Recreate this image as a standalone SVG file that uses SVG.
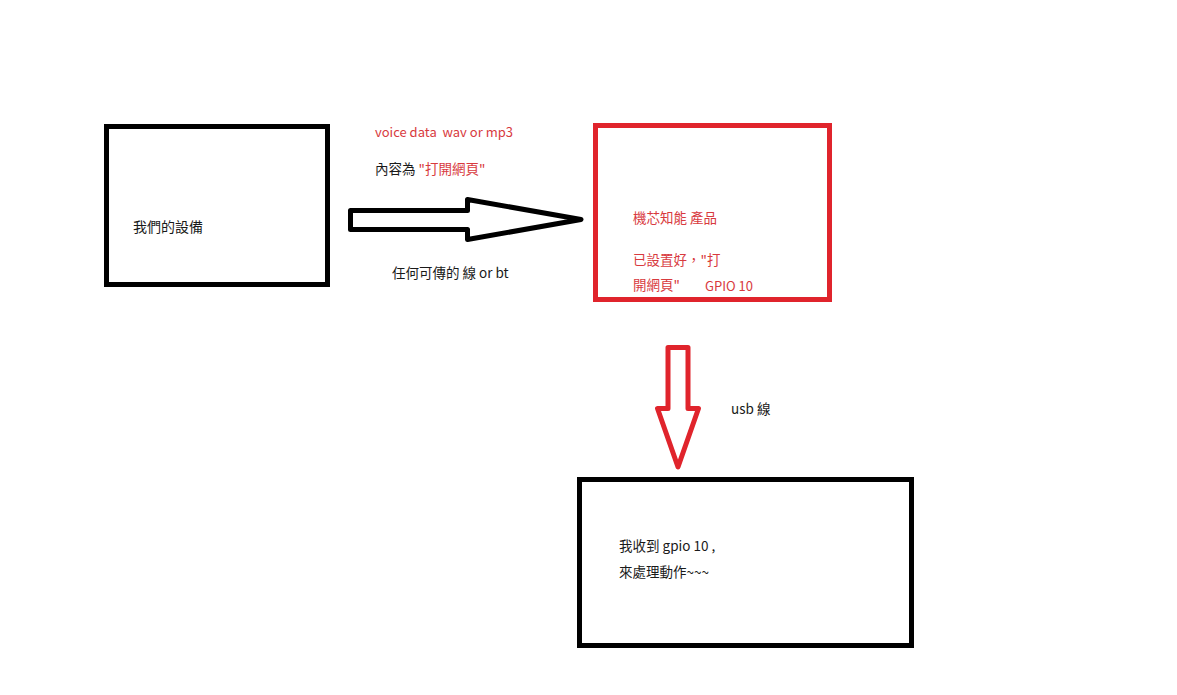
<svg xmlns="http://www.w3.org/2000/svg" width="1177" height="695" viewBox="0 0 1177 695">
<style>
.box{fill:#ffffff;stroke:#000000;stroke-width:5}
.rbox{fill:#ffffff;stroke:#e0242c;stroke-width:5}
.arr{fill:#ffffff;stroke:#000000;stroke-width:5;stroke-linejoin:round}
.rarr{fill:#ffffff;stroke:#e0242c;stroke-width:5;stroke-linejoin:round}
text{font-family:"Noto Sans CJK TC","Noto Sans",sans-serif;font-size:13.5px;fill:#1a1a1a}
.red{fill:#d83a3e}
</style>
<rect width="1177" height="695" fill="#ffffff"/>
<g id="node-our-device">
<rect class="box" x="106.5" y="126.5" width="221" height="158"/>
<text x="133" y="232" style="font-size:14px">我們的設備</text>
</g>
<g id="node-product">
<rect class="rbox" x="595.5" y="125.5" width="234" height="174"/>
<text class="red" x="633" y="223">機芯知能 產品</text>
<text class="red" x="633" y="265">已設置好，"打</text>
<text class="red" x="633" y="290">開網頁"</text>
<text class="red" x="705" y="291" style="font-size:13px">GPIO 10</text>
</g>
<g id="node-receiver">
<rect class="box" x="579.5" y="479.5" width="332" height="166"/>
<text x="619" y="551">我收到 gpio 10 ,</text>
<text x="619" y="577">來處理動作~~~</text>
</g>
<g id="connectors">
<polygon class="arr" points="350.5,210.5 467.5,210.5 467.5,199.5 581,219.5 467.5,239.5 467.5,229.5 350.5,229.5"/>
<polygon class="rarr" points="668,347.5 688,347.5 688,408.5 698.5,408.5 678,467 657.5,408.5 668,408.5"/>
<text class="red" x="375" y="137" style="font-size:13px">voice data&#160; wav or mp3</text>
<text x="375" y="174">內容為 <tspan class="red">"打開網頁"</tspan></text>
<text x="392" y="278">任何可傳的 線 or bt</text>
<text x="731" y="414">usb 線</text>
</g>
</svg>
